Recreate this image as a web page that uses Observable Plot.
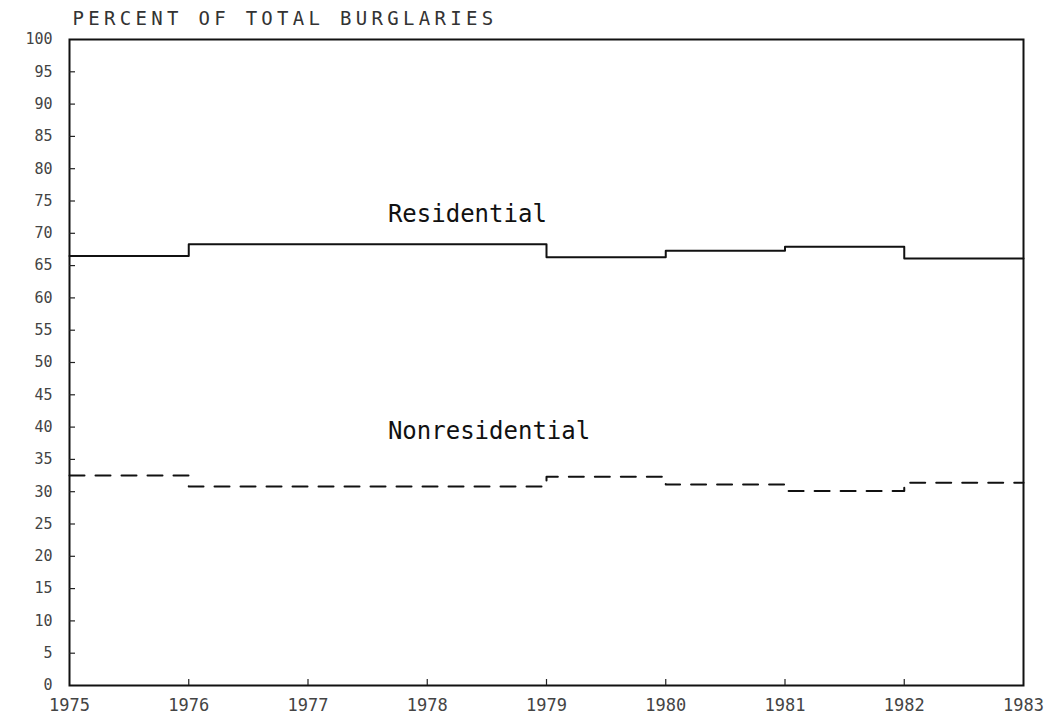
<!DOCTYPE html>
<html>
<head>
<meta charset="utf-8">
<script src="https://cdn.jsdelivr.net/npm/d3@7"></script>
<script src="https://cdn.jsdelivr.net/npm/@observablehq/plot@0.6"></script>
<style>
  html, body { margin: 0; padding: 0; background: #fff; }
  #chart svg { display: block; }
</style>
</head>
<body>
<div id="chart"></div>
<script>
// ---- data ----
const title = "PERCENT OF TOTAL BURGLARIES";
const years = [1975, 1976, 1977, 1978, 1979, 1980, 1981, 1982];
const endYear = 1983;
const residential    = [66.5, 68.3, 68.3, 68.3, 66.3, 67.3, 67.9, 66.1];
const nonresidential = [32.5, 30.8, 30.8, 30.8, 32.3, 31.1, 30.1, 31.4];
const seriesNames = ["Residential", "Nonresidential"];
const labelX = [1977.67, 1977.67];
const labelY = [73.0, 39.4];
const xTicks = [1975, 1976, 1977, 1978, 1979, 1980, 1981, 1982, 1983];
const yTicks = [0, 5, 10, 15, 20, 25, 30, 35, 40, 45, 50, 55, 60, 65, 70, 75, 80, 85, 90, 95, 100];

// step rows: each year's value holds until the next year; final value held to endYear
function stepRows(values) {
  const rows = years.map((yr, i) => ({year: yr, value: values[i]}));
  rows.push({year: endYear, value: values[values.length - 1]});
  return rows;
}
const resRows = stepRows(residential);
const nonRows = stepRows(nonresidential);
const labels = seriesNames.map((n, i) => ({name: n, x: labelX[i], y: labelY[i]}));

const W = 1050, H = 720;
const mL = 69, mR = 27, mT = 39, mB = 35;
const innerW = W - mL - mR, innerH = H - mT - mB;

const chart = Plot.plot({
  width: W,
  height: H,
  marginLeft: mL,
  marginRight: mR,
  marginTop: mT,
  marginBottom: mB,
  style: {background: "#fff", color: "#111"},
  x: {domain: [1975, 1983]},
  y: {domain: [0, 100]},
  marks: [
    Plot.frame({stroke: "#111", strokeWidth: 2}),
    // inward tick marks
    Plot.tickY(yTicks.slice(1, -1), {y: d => d, insetRight: innerW - 6, stroke: "#222", strokeWidth: 1.2}),
    Plot.tickX(xTicks.slice(1, -1), {x: d => d, insetTop: innerH - 6, stroke: "#222", strokeWidth: 1.2}),
    Plot.axisY({ticks: yTicks, tickSize: 0, tickPadding: 17, label: null,
      fontFamily: "DejaVu Sans Mono", fontSize: 15, fill: "#444"}),
    Plot.axisX({ticks: xTicks, tickSize: 0, tickPadding: 13, label: null, tickFormat: "d",
      fontFamily: "DejaVu Sans Mono", fontSize: 17, fill: "#444"}),
    Plot.line(resRows, {x: "year", y: "value", curve: "step-after", stroke: "#111", strokeWidth: 2}),
    Plot.line(nonRows, {x: "year", y: "value", curve: "step-after", stroke: "#111", strokeWidth: 2, strokeDasharray: "15,11"}),
    Plot.text(labels, {x: "x", y: "y", text: "name", textAnchor: "start", lineAnchor: "middle",
      fontFamily: "DejaVu Sans Mono", fontSize: 24, fill: "#111"}),
    Plot.text([title], {frameAnchor: "top-left", dx: 3, dy: -21, textAnchor: "start", lineAnchor: "middle",
      fontFamily: "DejaVu Sans Mono", fontSize: 19, fill: "#333",
      text: d => d})
  ]
});
// widen title letter spacing like the plotter lettering
chart.querySelectorAll("text").forEach(t => {
  if (t.textContent === title) t.setAttribute("letter-spacing", "4.3");
});
document.getElementById("chart").appendChild(chart);
</script>
</body>
</html>
